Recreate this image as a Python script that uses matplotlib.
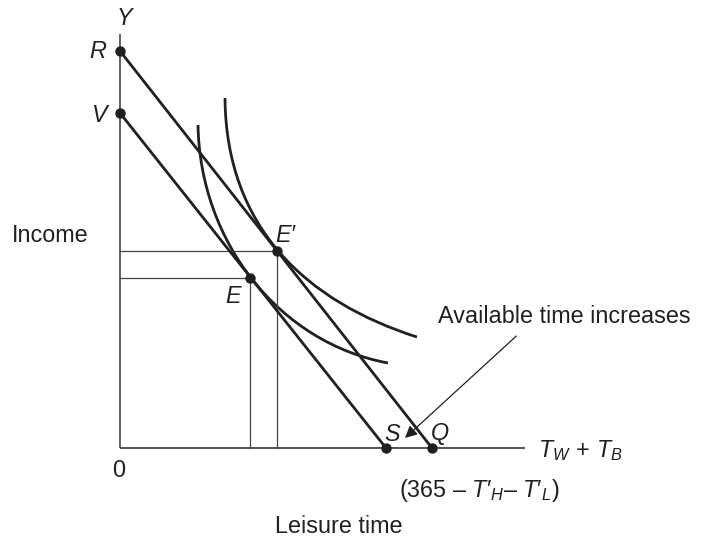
import matplotlib
matplotlib.use("Agg")
import matplotlib.pyplot as plt
from matplotlib.path import Path
from matplotlib.patches import PathPatch

plt.rcParams["font.family"] = ["Liberation Sans", "DejaVu Sans"]
plt.rcParams["mathtext.fontset"] = "custom"
plt.rcParams["mathtext.rm"] = "Liberation Sans"
plt.rcParams["mathtext.it"] = "Liberation Sans:italic"

# values (origin at 0, units ~ pixels)
axis_top = 414
axis_right = 405
budget_old = {"V": 335, "S": 266}      # intercepts of the original budget line
budget_new = {"R": 397, "Q": 312}      # intercepts after available time increases
eq_old = (130, 170)                     # E
eq_new = (157, 197)                     # E'
# indifference curves: cubic Bezier start / control / control / end
ic_old = [(78, 323), (80, 205), (160, 105), (268, 85)]
ic_new = [(105, 350), (106, 220), (187, 146), (297, 111)]

ink = "#231f20"
fs = 16.8

fig = plt.figure(figsize=(7.07, 5.38), dpi=100)
ax = fig.add_axes([0, 0, 1, 1])
ax.set_xlim(-120, 587)
ax.set_ylim(-90, 448)
ax.axis("off")

# axes
ax.plot([0, 0], [0, axis_top], color="#555555", lw=1.3, solid_capstyle="butt")
ax.plot([0, axis_right], [0, 0], color="#444444", lw=1.3, solid_capstyle="butt")

# guide lines to the equilibria
for ex, ey in (eq_old, eq_new):
    ax.plot([0, ex], [ey, ey], color="#444444", lw=0.9)
    ax.plot([ex, ex], [0, ey], color="#444444", lw=0.9)

# budget lines
ax.plot([0, budget_old["S"]], [budget_old["V"], 0], color=ink, lw=2.0)
ax.plot([0, budget_new["Q"]], [budget_new["R"], 0], color=ink, lw=2.0)

# indifference curves
codes = [Path.MOVETO, Path.CURVE4, Path.CURVE4, Path.CURVE4]
for pts in (ic_old, ic_new):
    ax.add_patch(PathPatch(Path(pts, codes), fill=False, ec=ink, lw=2.0))

# points
px = [0, 0, eq_old[0], eq_new[0], budget_old["S"], budget_new["Q"]]
py = [budget_new["R"], budget_old["V"], eq_old[1], eq_new[1], 0, 0]
ax.plot(px, py, "o", color=ink, ms=6.5, zorder=5)

# labels
lab = dict(fontsize=fs, color=ink, style="italic")
ax.text(4, 423, "Y", ha="center", va="baseline", **lab)
ax.text(-22, 390, "R", ha="center", va="baseline", **lab)
ax.text(-20.5, 326, "V", ha="center", va="baseline", **lab)
ax.text(155, 206, "E\u2032", ha="left", va="baseline", **lab)
ax.text(113.5, 145, "E", ha="center", va="baseline", **lab)
ax.text(272, 7, "S", ha="center", va="baseline", **lab)
ax.text(319.5, 8, "Q", ha="center", va="baseline", **lab)

ax.text(-69.5, 206, "Income", ha="center", va="baseline", fontsize=fs, color=ink)
ax.text(-1, -29, "0", ha="center", va="baseline", fontsize=fs, color=ink)
ax.text(219, -85, "Leisure time", ha="center", va="baseline", fontsize=fs, color=ink)
ax.text(418, -9, r"$T_W\,+\,T_B$", ha="left", va="baseline", fontsize=fs, color=ink)
ax.text(359, -49, "(365 \u2013 $T\u2032_H$\u2013 $T\u2032_L$)", ha="center", va="baseline",
        fontsize=fs, color=ink)

ax.annotate("Available time increases", xy=(285, 10), xytext=(318, 125),
            textcoords="data", ha="left", va="baseline", fontsize=fs, color=ink,
            arrowprops=dict(arrowstyle="-|>", color=ink, lw=0.9,
                            mutation_scale=18, shrinkA=0, shrinkB=0,
                            patchA=None, relpos=(0.31, -0.35)))

fig.savefig("out.png", dpi=100)
